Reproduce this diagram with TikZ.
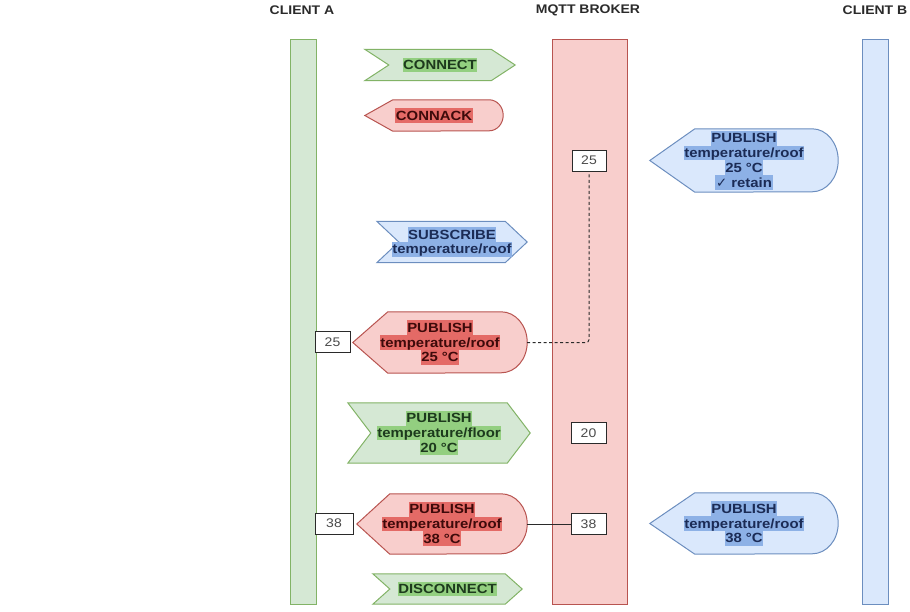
\documentclass[tikz,border=0pt]{standalone}
\usepackage{fontspec}
\setmainfont{Liberation Sans}[FakeStretch=1.12]
\newfontfamily\symfont{DejaVu Sans}

% draw.io style palette
\definecolor{gfill}{HTML}{D5E8D4}\definecolor{gline}{HTML}{82B366}
\definecolor{rfill}{HTML}{F8CECC}\definecolor{rline}{HTML}{B85450}
\definecolor{bfill}{HTML}{DAE8FC}\definecolor{bline}{HTML}{6C8EBF}
\definecolor{ghl}{HTML}{93CF80}\definecolor{rhl}{HTML}{E46A66}\definecolor{bhl}{HTML}{8DB1E6}
\definecolor{gtext}{HTML}{1D3A1D}\definecolor{rtext}{HTML}{3D0A0A}\definecolor{btext}{HTML}{1B2B55}
\definecolor{ink}{HTML}{2A2A2A}

% highlighted text line
\newcommand\hlline[2]{{\setlength\fboxsep{0pt}\colorbox{#1}{\rule[-2.8bp]{0pt}{14.8bp}\kern0.6bp#2\kern0.6bp}}}
\newcommand\hlg[1]{\hlline{ghl}{#1}}
\newcommand\hlr[1]{\hlline{rhl}{#1}}
\newcommand\hlb[1]{\hlline{bhl}{#1}}

\pgfdeclarelayer{bodies}
\pgfsetlayers{bodies,main}

% chevron body behind a message node: node, notch/point depth, style
\newcommand\chevronbody[3]{%
  \begin{pgfonlayer}{bodies}
    \path[#3] (#1.north west) -- ([xshift=-#2bp]#1.north east) -- (#1.east)
      -- ([xshift=-#2bp]#1.south east) -- (#1.south west) -- ([xshift=#2bp]#1.west) -- cycle;
  \end{pgfonlayer}}
% display body (pointed left, rounded right): node, point depth, end radius, half height, style
\newcommand\displaybody[5]{%
  \begin{pgfonlayer}{bodies}
    \path[#5] (#1.west) -- ([xshift=#2bp]#1.north west) -- ([xshift=-#3bp]#1.north east)
      arc[start angle=90, end angle=-90, x radius=#3bp, y radius=#4bp]
      -- ([xshift=#2bp]#1.south west) -- cycle;
  \end{pgfonlayer}}

\tikzset{
  head/.style={font=\bfseries\fontsize{12.5bp}{14bp}\selectfont, text=ink, inner sep=0pt},
  lane/.style={inner sep=0pt, line width=1bp},
  msg/.style={inner sep=0pt, align=center, font=\bfseries\fontsize{13.3bp}{14.8bp}\selectfont},
  gmsg/.style={msg, text=gtext},
  rmsg/.style={msg, text=rtext},
  bmsg/.style={msg, text=btext},
  gbody/.style={fill=gfill, draw=gline, line width=1bp},
  rbody/.style={fill=rfill, draw=rline, line width=1bp},
  bbody/.style={fill=bfill, draw=bline, line width=1bp},
  valbox/.style={draw=ink, fill=white, line width=0.9bp, inner sep=0pt,
    minimum width=35bp, minimum height=20.5bp, text=ink!85,
    font=\fontsize{12.5bp}{14bp}\selectfont},
  link/.style={draw=ink, line width=1bp}
}

\begin{document}
\begin{tikzpicture}[x=1bp, y=-1bp]
\useasboundingbox (0,0) rectangle (910,612);

% participants
\node[head] (hA) at (302,10) {CLIENT A};
\node[head] (hM) at (588,10) {MQTT BROKER};
\node[head] (hB) at (875,10) {CLIENT B};

\node[lane, fill=gfill, draw=gline, minimum width=26bp, minimum height=564.5bp] (laneA) at (303,321.75) {};
\node[lane, fill=rfill, draw=rline, minimum width=75bp, minimum height=564.5bp] (laneM) at (589.5,321.75) {};
\node[lane, fill=bfill, draw=bline, minimum width=26bp, minimum height=564.5bp] (laneB) at (875,321.75) {};

% CONNECT / CONNACK
\node[gmsg, minimum width=150bp, minimum height=31bp] (connect) at (440,65) {\hlg{CONNECT}};
\chevronbody{connect}{24}{gbody}
\node[rmsg, minimum width=138bp, minimum height=31bp] (connack) at (434,115.5) {\hlr{CONNACK}};
\displaybody{connack}{28}{14}{15.5}{rbody}

% retained publish from client B
\node[bmsg, minimum width=188bp, minimum height=63bp] (pubB1) at (744,160.5)
  {\hlb{PUBLISH}\\\hlb{temperature/roof}\\\hlb{25 °C}\\\hlb{{\symfont\mdseries ✓} retain}};
\displaybody{pubB1}{45}{26}{31.5}{bbody}
\node[valbox, minimum width=34bp, minimum height=21bp] (m25) at (589,160.5) {25};

% subscription and delivery of the retained value
\node[bmsg, minimum width=150bp, minimum height=41bp] (subscribe) at (452,242)
  {\hlb{SUBSCRIBE}\\\hlb{temperature/roof}};
\chevronbody{subscribe}{22}{bbody}

\node[rmsg, minimum width=174bp, minimum height=61bp] (pubA25) at (440,342.5)
  {\hlr{PUBLISH}\\\hlr{temperature/roof}\\\hlr{25 °C}};
\displaybody{pubA25}{35}{26}{30.5}{rbody}
\node[valbox] (a25) at (332.5,342) {25};

% other topic
\node[gmsg, minimum width=182bp, minimum height=60bp] (floor) at (439,433)
  {\hlg{PUBLISH}\\\hlg{temperature/floor}\\\hlg{20 °C}};
\chevronbody{floor}{23}{gbody}
\node[valbox] (m20) at (588.5,433) {20};

% live update
\node[rmsg, minimum width=170bp, minimum height=60bp] (pubA38) at (442,524)
  {\hlr{PUBLISH}\\\hlr{temperature/roof}\\\hlr{38 °C}};
\displaybody{pubA38}{33}{26}{30}{rbody}
\node[valbox, minimum width=38bp, minimum height=21bp] (a38) at (334,523.5) {38};
\node[valbox] (m38) at (588.5,524) {38};

\node[bmsg, minimum width=188bp, minimum height=61bp] (pubB38) at (744,523.5)
  {\hlb{PUBLISH}\\\hlb{temperature/roof}\\\hlb{38 °C}};
\displaybody{pubB38}{45}{26}{30.5}{bbody}

% DISCONNECT
\node[gmsg, minimum width=149bp, minimum height=30bp] (disconnect) at (447.5,589) {\hlg{DISCONNECT}};
\chevronbody{disconnect}{17}{gbody}

% connectors
\draw[link, dashed, dash pattern=on 3bp off 2.5bp, rounded corners=3bp] (pubA25.east) -| (m25.south);
\draw[link] (pubA38.east) -- (m38.west);
\end{tikzpicture}
\end{document}
